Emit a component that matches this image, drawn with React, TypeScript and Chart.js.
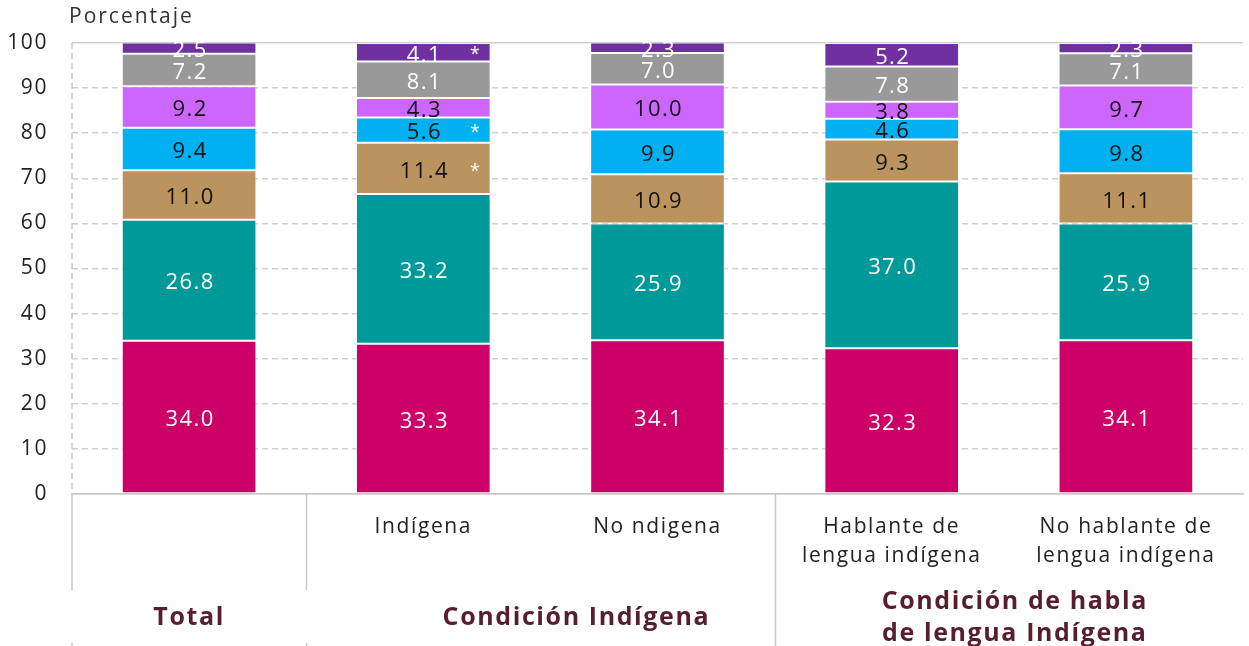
import React, { useEffect, useRef } from "react";
import { Chart, registerables } from "chart.js";

Chart.register(...registerables);

// ---------- data ----------
const categories: string[][] = [
  [""],
  ["Indígena"],
  ["No ndigena"],
  ["Hablante de", "lengua indígena"],
  ["No hablante de", "lengua indígena"],
];

const seriesNames = ["Serie 1", "Serie 2", "Serie 3", "Serie 4", "Serie 5", "Serie 6", "Serie 7"];

const serie1Values = [34.0, 33.3, 34.1, 32.3, 34.1];
const serie2Values = [26.8, 33.2, 25.9, 37.0, 25.9];
const serie3Values = [11.0, 11.4, 10.9, 9.3, 11.1];
const serie4Values = [9.4, 5.6, 9.9, 4.6, 9.8];
const serie5Values = [9.2, 4.3, 10.0, 3.8, 9.7];
const serie6Values = [7.2, 8.1, 7.0, 7.8, 7.1];
const serie7Values = [2.5, 4.1, 2.3, 5.2, 2.3];

// significance marks (*) per series, per category
const serie3Marks = [false, true, false, false, false];
const serie4Marks = [false, true, false, false, false];
const serie7Marks = [false, true, false, false, false];
const noMarks = [false, false, false, false, false];

const yTickValues = [0, 10, 20, 30, 40, 50, 60, 70, 80, 90, 100];

const groupTitles: string[][] = [
  ["Total"],
  ["Condición Indígena"],
  ["Condición de habla", "de lengua Indígena"],
];
const groupFirst = [0, 1, 3];
const groupLast = [0, 2, 4];

// ---------- styles ----------
const seriesColors = ["#CC0066", "#009999", "#BA935E", "#00B0F0", "#CC66FF", "#999999", "#7030A0"];
const labelColors = ["#FFFFFF", "#FFFFFF", "#111111", "#111111", "#111111", "#FFFFFF", "#FFFFFF"];
const groupDx = [0, 36, 6];
const FONT = "'Open Sans', 'Noto Sans', sans-serif";

export default function App() {
  const canvasRef = useRef<HTMLCanvasElement | null>(null);

  useEffect(() => {
    document.body.style.margin = "0";
    const canvas = canvasRef.current;
    if (!canvas) return;

    const allValues = [serie1Values, serie2Values, serie3Values, serie4Values, serie5Values, serie6Values, serie7Values];
    const allMarks = [noMarks, noMarks, serie3Marks, serie4Marks, noMarks, noMarks, serie7Marks];

    const spacing = {
      id: "spacing",
      beforeDraw(chart: any) {
        (chart.ctx as any).letterSpacing = "1.6px";
      },
    };

    const segLabels = {
      id: "segLabels",
      afterDatasetsDraw(chart: any) {
        const ctx = chart.ctx;
        ctx.save();
        ctx.letterSpacing = "1.4px";
        ctx.textAlign = "center";
        ctx.textBaseline = "middle";
        chart.data.datasets.forEach((ds: any, di: number) => {
          const meta = chart.getDatasetMeta(di);
          meta.data.forEach((el: any, i: number) => {
            const v = ds.data[i];
            const p = el.getProps(["x", "y", "base", "width"], true);
            const cy = (p.y + p.base) / 2;
            ctx.fillStyle = labelColors[di];
            ctx.font = `22px ${FONT}`;
            ctx.fillText(v.toFixed(1), p.x + 1, cy + 3);
            if (allMarks[di][i]) {
              ctx.fillStyle = "#FFFFFF";
              ctx.font = `18px ${FONT}`;
              ctx.fillText("*", p.x + p.width / 2 - 15, cy + 3);
            }
          });
        });
        ctx.restore();
      },
    };

    const frame = {
      id: "frame",
      afterDraw(chart: any) {
        const ctx = chart.ctx;
        const area = chart.chartArea;
        const xs = chart.scales.x;
        const H = chart.height;
        ctx.save();
        // y axis line (dashed in plot, solid below)
        ctx.strokeStyle = "#C8C8C8";
        ctx.lineWidth = 1.5;
        ctx.setLineDash([6, 4]);
        ctx.beginPath();
        ctx.moveTo(area.left, area.top);
        ctx.lineTo(area.left, area.bottom);
        ctx.stroke();
        ctx.setLineDash([]);
        ctx.beginPath();
        ctx.moveTo(area.left, area.bottom);
        ctx.lineTo(area.left, H);
        ctx.stroke();
        // group separators
        for (let g = 1; g < groupFirst.length; g++) {
          const sx = Math.round(xs.getPixelForValue(groupFirst[g] - 0.5)) + 0.5;
          ctx.beginPath();
          ctx.moveTo(sx, area.bottom);
          ctx.lineTo(sx, H);
          ctx.stroke();
        }
        // white text box behind the first group title
        const sep1 = xs.getPixelForValue(groupFirst[1] - 0.5);
        ctx.fillStyle = "#FFFFFF";
        ctx.fillRect(area.left - 24, 590, sep1 - area.left + 26, 53);
        // group titles
        ctx.fillStyle = "#561F2E";
        ctx.font = `bold 25px ${FONT}`;
        ctx.letterSpacing = "1.6px";
        ctx.textAlign = "center";
        ctx.textBaseline = "middle";
        groupTitles.forEach((lines, g) => {
          const cx = (xs.getPixelForValue(groupFirst[g]) + xs.getPixelForValue(groupLast[g])) / 2 + groupDx[g];
          const lh = 32;
          const startY = 618 - ((lines.length - 1) * lh) / 2;
          lines.forEach((t, k) => ctx.fillText(t, cx, startY + k * lh));
        });
        // porcentaje label
        ctx.fillStyle = "#333333";
        ctx.font = `21px ${FONT}`;
        ctx.letterSpacing = "2px";
        ctx.textAlign = "left";
        ctx.fillText("Porcentaje", 69, 17);
        ctx.restore();
      },
    };

    const chart = new Chart(canvas, {
      type: "bar",
      data: {
        labels: categories,
        datasets: allValues.map((vals, i) => ({
          label: seriesNames[i],
          data: vals,
          backgroundColor: seriesColors[i],
          borderColor: "rgba(255,255,255,0.55)",
          borderWidth: 1,
          borderSkipped: false,
          categoryPercentage: 1,
          barPercentage: 0.575,
        })),
      },
      options: {
        responsive: false,
        animation: false,
        maintainAspectRatio: false,
        layout: { padding: { top: 43, right: 6, left: 0, bottom: 0 } },
        plugins: {
          legend: { display: false },
          tooltip: { enabled: false },
          title: { display: false },
        },
        scales: {
          x: {
            stacked: true,
            grid: { display: false },
            border: { display: true, color: "#C8C8C8", width: 1.5 },
            ticks: {
              color: "#222222",
              font: { family: FONT, size: 21, lineHeight: 1.35 },
              padding: 11,
              maxRotation: 0,
              autoSkip: false,
            },
            afterFit: (s: any) => {
              s.height = 152;
            },
          },
          y: {
            stacked: true,
            min: 0,
            max: 100,
            afterBuildTicks: (s: any) => {
              s.ticks = yTickValues.map((v) => ({ value: v }));
            },
            grid: {
              color: "#CFCFCF",
              lineWidth: 1.5,
              drawTicks: false,
            },
            border: {
              display: false,
              dash: (c: any) => (c.tick && (c.tick.value === 100 || c.tick.value === 0) ? [] : [6, 4]),
            },
            ticks: {
              color: "#222222",
              font: { family: FONT, size: 21 },
              padding: 24,
            },
            afterFit: (s: any) => {
              s.width = 72;
            },
          },
        },
      },
      plugins: [spacing, segLabels, frame],
    });

    return () => chart.destroy();
  }, []);

  return (
    <div style={{ width: 1249, height: 646, background: "#FFFFFF" }}>
      <canvas ref={canvasRef} width={1249} height={646} style={{ display: "block" }} />
    </div>
  );
}
